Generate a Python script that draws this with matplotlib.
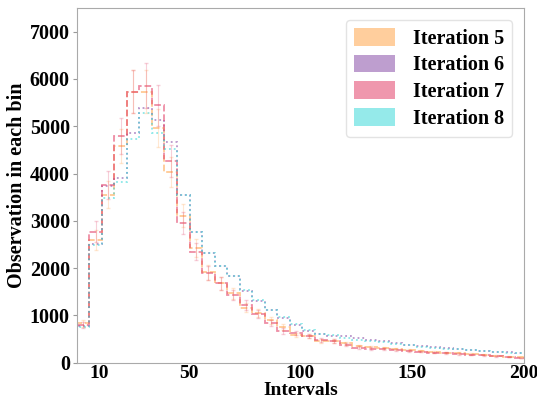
import numpy as np
import matplotlib
matplotlib.use("Agg")
import matplotlib.pyplot as plt
from matplotlib.patches import Patch

plt.rcParams['font.family'] = ['Liberation Serif', 'DejaVu Serif']
plt.rcParams['font.weight'] = 'bold'

bin_width = 5.6
n_bins = 36

iter5 = [830, 2600, 3550, 4580, 5735, 5735, 4960, 4030, 3110, 2420, 1910, 1680, 1470, 1160,
         1050, 900, 750, 590, 570, 460, 460, 410, 350, 330, 310, 290, 270, 250, 230, 215,
         200, 185, 170, 150, 130, 110]
iter6 = [780, 2500, 3740, 3910, 4850, 5380, 5130, 4660, 3550, 2770, 2310, 2040, 1830, 1510,
         1300, 1110, 950, 787, 673, 610, 575, 560, 520, 480, 450, 410, 380, 350, 330, 310,
         290, 270, 250, 235, 220, 205]
iter7 = [800, 2770, 3760, 4790, 5735, 5860, 5440, 4270, 2960, 2350, 1890, 1680, 1430, 1220,
         1030, 840, 670, 630, 568, 480, 460, 380, 320, 300, 285, 270, 250, 235, 215, 200,
         185, 170, 155, 140, 120, 100]
iter8 = [760, 2480, 3490, 3820, 4730, 5290, 4850, 4520, 3550, 2770, 2310, 2040, 1830, 1530,
         1320, 1110, 970, 820, 700, 610, 590, 525, 490, 460, 430, 400, 370, 340, 320, 300,
         280, 260, 245, 230, 215, 200]
err_frac = 0.08

labels = ['Iteration 5', 'Iteration 6', 'Iteration 7', 'Iteration 8']
colors = ['#FFA64D', '#8A4FA8', '#E3426A', '#3ED9D9']
styles = ['--', ':', '--', ':']
series = [iter5, iter6, iter7, iter8]

edges = np.arange(n_bins + 1) * bin_width
centers = (edges[:-1] + edges[1:]) / 2

fig = plt.figure(figsize=(5.37, 4.03), dpi=100)
ax = fig.add_axes([0.143, 0.1, 0.833, 0.88])

for vals, c, ls in zip(series, colors, styles):
    ax.hist(centers, bins=edges, weights=vals, histtype='step', color=c,
            linestyle=ls, linewidth=1.3, alpha=0.6)

for vals, c in [(iter5, colors[0]), (iter7, colors[2])]:
    v = np.array(vals, dtype=float)
    ax.errorbar(centers, v, yerr=v * err_frac, fmt='none', ecolor=c,
                elinewidth=0.8, capsize=1.5, alpha=0.25)

ax.set_xlim(0, 200)
ax.set_ylim(0, 7500)
ax.set_xticks([10, 50, 100, 150, 200])
ax.set_yticks(np.arange(0, 7001, 1000))
ax.tick_params(axis='x', length=0, labelsize=14, pad=2)
ax.tick_params(axis='y', length=3, labelsize=14.5, color='#999999', pad=2)
for lab in ax.get_xticklabels() + ax.get_yticklabels():
    lab.set_fontweight('bold')
for s in ax.spines.values():
    s.set_color('#aaaaaa')

ax.set_xlabel('Intervals', fontsize=14, fontweight='bold', labelpad=0)
ax.set_ylabel('Observation in each bin', fontsize=14.5, fontweight='bold', labelpad=2)

handles = [Patch(facecolor=c, alpha=0.55, edgecolor='none') for c in colors]
leg = ax.legend(handles, labels, loc='upper right', prop={'weight': 'bold', 'size': 14.5},
                handlelength=2.0, handleheight=0.95, handletextpad=0.9, labelspacing=0.3,
                borderpad=0.4, borderaxespad=0.6, frameon=True, fancybox=True)
leg.get_frame().set_edgecolor('#dddddd')

fig.savefig('out.png', dpi=100)
